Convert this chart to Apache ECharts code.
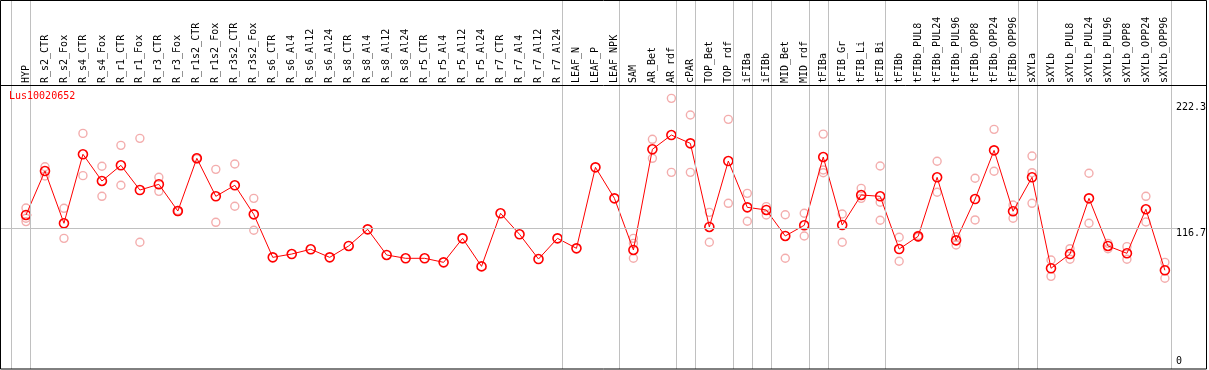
<!DOCTYPE html>
<html>
<head>
<meta charset="utf-8">
<script src="https://cdn.jsdelivr.net/npm/echarts@6/dist/echarts.min.js"></script>
<style>html,body{margin:0;padding:0;background:#fff}#c{width:1209px;height:370px}</style>
</head>
<body>
<div id="c"></div>
<script>
const chartTitle = 'Lus10020652';
const categories = ['HYP','R_s2_CTR','R_s2_Fox','R_s4_CTR','R_s4_Fox','R_r1_CTR','R_r1_Fox','R_r3_CTR','R_r3_Fox','R_r1s2_CTR','R_r1s2_Fox','R_r3s2_CTR','R_r3s2_Fox','R_s6_CTR','R_s6_Al4','R_s6_Al12','R_s6_Al24','R_s8_CTR','R_s8_Al4','R_s8_Al12','R_s8_Al24','R_r5_CTR','R_r5_Al4','R_r5_Al12','R_r5_Al24','R_r7_CTR','R_r7_Al4','R_r7_Al12','R_r7_Al24','LEAF_N','LEAF_P','LEAF_NPK','SAM','AR_Bet','AR_rdf','cPAR','TOP_Bet','TOP_rdf','iFIBa','iFIBb','MID_Bet','MID_rdf','tFIBa','tFIB_Gr','tFIB_Li','tFIB_Bi','tFIBb','tFIBb_PUL8','tFIBb_PUL24','tFIBb_PUL96','tFIBb_OPP8','tFIBb_OPP24','tFIBb_OPP96','sXYLa','sXYLb','sXYLb_PUL8','sXYLb_PUL24','sXYLb_PUL96','sXYLb_OPP8','sXYLb_OPP24','sXYLb_OPP96'];
const means = [127.7,164.7,120.7,178.8,156.3,169.5,148.7,153.5,131.0,175.4,143.4,152.7,128.2,92.0,94.8,98.8,92.0,101.6,115.6,94.0,91.2,91.2,87.8,108.0,84.4,129.1,111.4,90.6,108.0,99.6,167.8,141.7,98.2,183.0,195.0,188.0,117.6,173.1,134.1,131.9,110.0,119.0,176.5,119.2,144.5,143.4,99.0,109.7,159.4,106.3,141.1,182.1,130.8,159.4,82.8,94.8,141.7,101.6,95.4,132.5,81.1];
const replicates = [
 [133.6,124.9,122.1],[168.3,160.5],[133.3,108.0],[196.4,160.8],[168.7,143.4],[186.3,152.7],[192.2,104.7],[159.4,147.6],[131.5,130.5],[175.9,174.9],
 [166.1,121.5],[170.6,135.0],[141.7,114.8],[],[],[],[],[],[],[],
 [],[],[],[],[],[],[],[],[],[],
 [],[],[108.0,103.8,91.2],[191.4,175.4],[225.9,163.6],[211.9,163.6],[129.9,104.7],[208.2,137.5],[145.9,122.4],[134.7,127.7],
 [127.9,91.2],[129.1,110.0],[195.8,165.6,163.3],[128.5,104.7],[150.1,141.7],[168.9,138.4,123.2],[108.9,88.7],[110.5,108.9],[172.9,146.8],[109.4,102.4],
 [158.6,123.5],[199.8,164.5],[136.1,124.9],[177.3,163.3,137.5],[89.8,76.0],[99.3,90.4],[162.8,120.7],[103.8,99.3],[101.0,90.4],[143.4,121.8],
 [87.8,74.4]
];
const groupEnds = [-1,0,28,31,34,35,37,38,39,41,42,45,52,53,60];
const yTickValues = [222.3,116.7];
const yZeroTick = [0];
const refLineValue = 116.7;

// layout constants
const W = 1209, H = 370;
const firstX = 26, lastX = 1166.6;
const plotTop = 85, zeroY = 366.6;
const pxPerUnit = 1.1875;
const step = (lastX - firstX) / (categories.length - 1);
const yMax = (zeroY - plotTop) / pxPerUnit;
const font = 'DejaVu Sans Mono';

// overlay grid (gray separators)
const ovLeft = 1, ovRight = 1177, ovTop = 0, ovBottom = 369;
const ovXMin = (ovLeft - firstX) / step, ovXMax = (ovRight - firstX) / step;
const ovYMax = (zeroY - ovTop) / pxPerUnit, ovYMin = (zeroY - ovBottom) / pxPerUnit;

const repData = [];
replicates.forEach((arr, i) => arr.forEach(v => repData.push([i, v])));

const chart = echarts.init(document.getElementById('c'), null, {renderer: 'canvas'});
chart.setOption({
  animation: false,
  backgroundColor: '#fff',
  title: {text: chartTitle, left: 9, top: 91, padding: 0, textStyle: {color: '#ff0000', fontSize: 10, fontFamily: font, fontWeight: 'normal'}},
  grid: [
    {left: firstX, right: W - lastX, top: plotTop, bottom: H - zeroY},
    {left: ovLeft, right: W - ovRight, top: ovTop, bottom: H - ovBottom}
  ],
  xAxis: [
    {type: 'category', gridIndex: 0, data: categories, position: 'top', boundaryGap: false,
     axisLine: {show: false}, axisTick: {show: false}, splitLine: {show: false},
     axisLabel: {rotate: 90, interval: 0, fontSize: 10, fontFamily: font, color: '#000', margin: 2}},
    {type: 'value', gridIndex: 1, min: ovXMin, max: ovXMax, show: false}
  ],
  yAxis: [
    {type: 'value', gridIndex: 0, min: 0, max: yMax, position: 'right',
     axisLine: {show: false}, axisTick: {show: false}, splitLine: {show: false},
     axisLabel: {customValues: yTickValues, formatter: v => String(v), fontSize: 10, fontFamily: font, color: '#000', margin: 11, align: 'left', verticalAlign: 'top'}},
    {type: 'value', gridIndex: 0, min: 0, max: yMax, position: 'right', offset: 0,
     axisLine: {show: false}, axisTick: {show: false}, splitLine: {show: false},
     axisLabel: {customValues: yZeroTick, formatter: v => String(v), fontSize: 10, fontFamily: font, color: '#000', margin: 11, align: 'left', verticalAlign: 'bottom'}},
    {type: 'value', gridIndex: 1, min: ovYMin, max: ovYMax, show: false}
  ],
  graphic: [
    {type: 'rect', shape: {x: 0.5, y: 0.5, width: 1206, height: 368.5}, style: {fill: null, stroke: '#000', lineWidth: 1}, z: 100},
    {type: 'line', shape: {x1: 0, y1: 85.5, x2: 1207, y2: 85.5}, style: {stroke: '#000', lineWidth: 1}, z: 100}
  ],
  series: [
    {type: 'line', xAxisIndex: 1, yAxisIndex: 2, data: [], silent: true, z: 1,
     markLine: {silent: true, symbol: ['none', 'none'], animation: false,
       label: {show: false},
       lineStyle: {color: '#c0c0c0', width: 1, type: 'solid'},
       data: groupEnds.map(b => ({xAxis: b + 0.22})).concat([{yAxis: refLineValue}])}},
    {type: 'scatter', xAxisIndex: 0, yAxisIndex: 0, data: repData, symbol: 'circle', symbolSize: 8, z: 2,
     itemStyle: {color: 'rgba(0,0,0,0)', borderColor: '#f09898', borderWidth: 1.4}},
    {type: 'line', xAxisIndex: 0, yAxisIndex: 0, data: means, symbol: 'circle', symbolSize: 9, z: 3,
     lineStyle: {color: '#ff0000', width: 1}, itemStyle: {color: 'rgba(0,0,0,0)', borderColor: '#ff0000', borderWidth: 1.6}}
  ]
});
</script>
</body>
</html>
